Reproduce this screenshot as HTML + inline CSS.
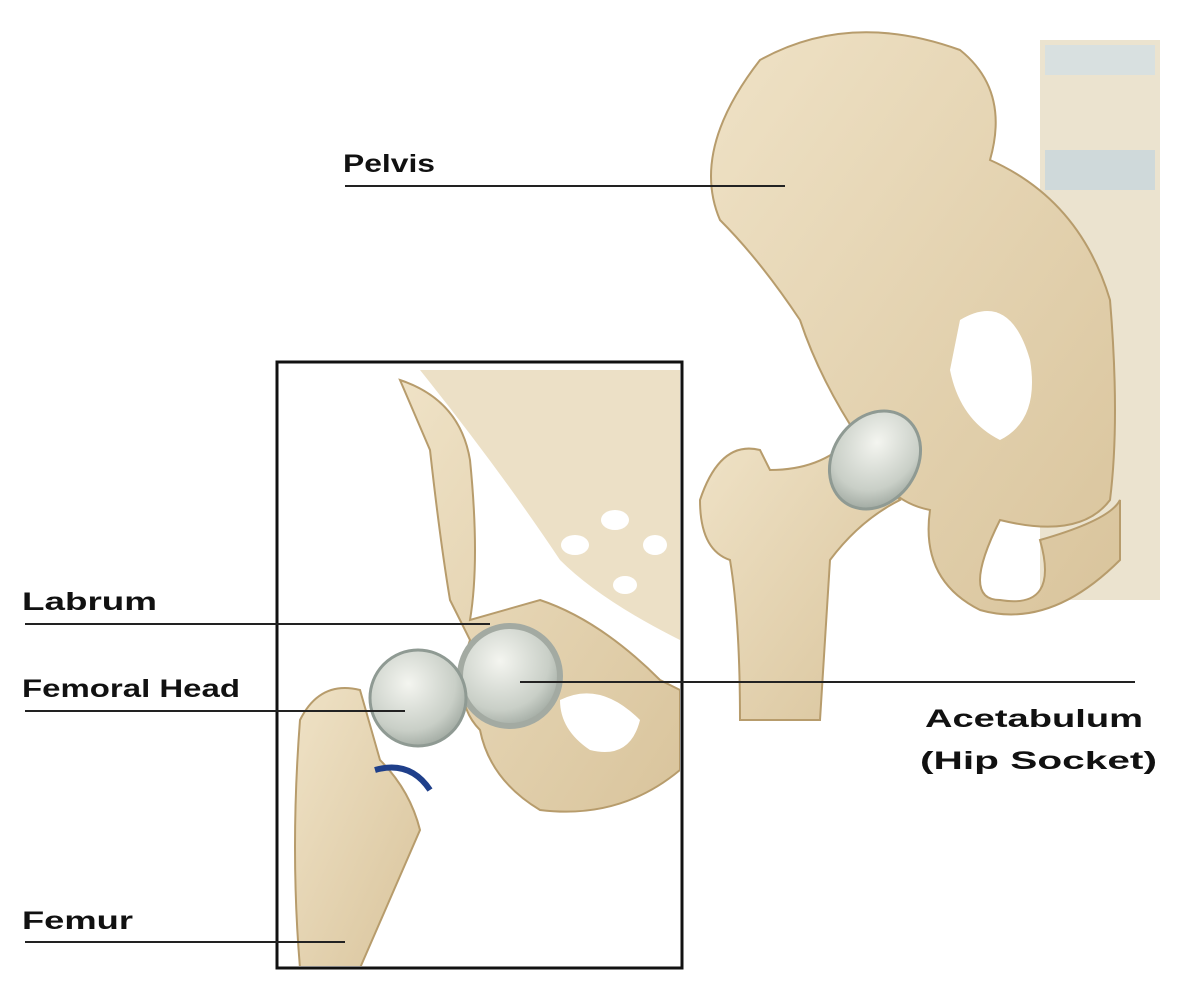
<!DOCTYPE html>
<html><head><meta charset="utf-8"><style>
html,body{margin:0;padding:0;background:#fff;}
svg{display:block;}
text{font-family:"Liberation Sans",sans-serif;font-weight:bold;font-size:25px;fill:#111;}
</style></head><body>
<svg width="1200" height="987" viewBox="0 0 1200 987" xmlns="http://www.w3.org/2000/svg">
<defs>
<linearGradient id="bone" x1="0" y1="0" x2="1" y2="1">
<stop offset="0" stop-color="#efe2c6"/><stop offset="1" stop-color="#d9c49c"/></linearGradient>
<radialGradient id="ball" cx="0.4" cy="0.35" r="0.7">
<stop offset="0" stop-color="#f4f5f0"/><stop offset="0.7" stop-color="#c9cfc7"/><stop offset="1" stop-color="#9ea79f"/></radialGradient>
</defs>
<rect x="1040" y="40" width="120" height="560" fill="#ebe3cf"/>
<rect x="1045" y="150" width="110" height="40" fill="#cfd9da"/>
<rect x="1045" y="45" width="110" height="30" fill="#d8e0e0"/>
<path d="M760 60 Q850 10 960 50 Q1010 90 990 160 Q1080 200 1110 300 Q1120 420 1110 500 Q1080 540 1000 520 Q960 600 1000 600 Q1060 610 1040 540 Q1110 520 1120 500 L1120 560 Q1050 630 980 610 Q920 580 930 510 Q880 500 860 440 Q820 380 800 320 Q760 260 720 220 Q690 150 760 60 Z" fill="url(#bone)" stroke="#b79c6c" stroke-width="2"/>
<path d="M960 320 Q1010 290 1030 360 Q1040 420 1000 440 Q960 420 950 370 Z" fill="#fff"/>
<path d="M700 500 Q720 440 760 450 L770 470 Q820 470 850 440 L900 500 Q860 520 830 560 L820 720 L740 720 Q740 620 730 560 Q700 550 700 500 Z" fill="url(#bone)" stroke="#b79c6c" stroke-width="2"/>
<ellipse cx="875" cy="460" rx="42" ry="52" fill="url(#ball)" stroke="#8f9a93" stroke-width="3" transform="rotate(35 875 460)"/>
<rect x="277" y="362" width="405" height="606" fill="#fff" stroke="#111" stroke-width="3"/>
<clipPath id="bx"><rect x="279" y="364" width="401" height="602"/></clipPath>
<g clip-path="url(#bx)">
<path d="M420 370 L680 370 L680 640 Q600 600 560 560 Q500 470 420 370 Z" fill="#ece0c6"/>
<path d="M400 380 Q460 400 470 460 Q480 560 470 620 L540 600 Q600 620 660 680 L680 690 L680 770 Q620 820 540 810 Q490 780 480 730 Q450 700 470 640 L450 600 Q440 540 430 450 Z" fill="url(#bone)" stroke="#b79c6c" stroke-width="2"/>
<ellipse cx="575" cy="545" rx="14" ry="10" fill="#fff"/><ellipse cx="615" cy="520" rx="14" ry="10" fill="#fff"/><ellipse cx="655" cy="545" rx="12" ry="10" fill="#fff"/><ellipse cx="625" cy="585" rx="12" ry="9" fill="#fff"/>
<path d="M560 700 Q600 680 640 720 Q630 760 590 750 Q560 730 560 700 Z" fill="#fff"/>
<path d="M300 720 Q320 680 360 690 L380 760 Q410 790 420 830 L360 968 L300 968 Q290 850 300 720 Z" fill="url(#bone)" stroke="#b79c6c" stroke-width="2"/>
<circle cx="510" cy="676" r="50" fill="url(#ball)" stroke="#a3aaa2" stroke-width="6"/>
<circle cx="418" cy="698" r="48" fill="url(#ball)" stroke="#8f9a93" stroke-width="3"/>
<path d="M375 770 Q410 760 430 790" fill="none" stroke="#1f3f8a" stroke-width="6"/>
</g>
<g stroke="#222" stroke-width="2">
<line x1="345" y1="186" x2="785" y2="186"/>
<line x1="25" y1="624" x2="490" y2="624"/>
<line x1="25" y1="711" x2="405" y2="711"/>
<line x1="25" y1="942" x2="345" y2="942"/>
<line x1="520" y1="682" x2="1135" y2="682"/>
</g>
<text x="343" y="172" textLength="92" lengthAdjust="spacingAndGlyphs">Pelvis</text>
<text x="22" y="610" textLength="135" lengthAdjust="spacingAndGlyphs">Labrum</text>
<text x="22" y="697" textLength="218" lengthAdjust="spacingAndGlyphs">Femoral Head</text>
<text x="22" y="929" textLength="111" lengthAdjust="spacingAndGlyphs">Femur</text>
<text x="925" y="727" textLength="218" lengthAdjust="spacingAndGlyphs">Acetabulum</text>
<text x="920" y="769" textLength="237" lengthAdjust="spacingAndGlyphs">(Hip Socket)</text>
</svg>
</body></html>
